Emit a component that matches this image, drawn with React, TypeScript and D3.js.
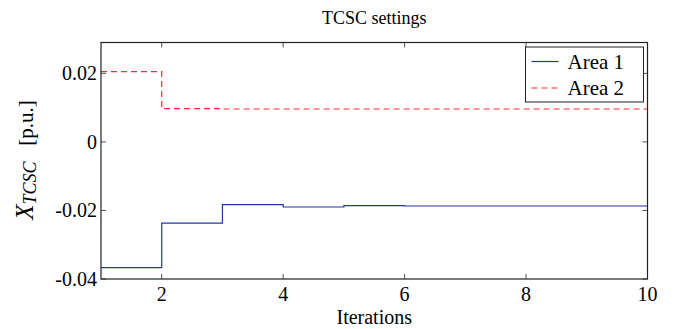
import React, { useEffect, useRef } from "react";
import * as d3 from "d3";

const iterations = [1, 2, 3, 4, 5, 6, 7, 8, 9, 10];
const area1 = [-0.0367, -0.0237, -0.0183, -0.019, -0.0186, -0.0187, -0.0187, -0.0187, -0.0187, -0.0187];
const area2 = [0.0205, 0.0097, 0.0096, 0.0096, 0.0096, 0.0096, 0.0096, 0.0096, 0.0096, 0.0096];
const xTicks = [2, 4, 6, 8, 10];
const yTicks = [-0.04, -0.02, 0, 0.02];
const yTickLabels = ["-0.04", "-0.02", "0", "0.02"];
const seriesNames = ["Area 1", "Area 2"];

const W = 675;
const H = 329;
const FONT = "'Liberation Serif', 'DejaVu Serif', serif";

const App = () => {
  const ref = useRef<SVGSVGElement>(null);

  useEffect(() => {
    const margin = { top: 42.5, right: 27.5, bottom: 50, left: 101 };
    const width = W - margin.left - margin.right;
    const height = H - margin.top - margin.bottom;

    const root = d3.select(ref.current);
    root.selectAll("*").remove();
    const svg = root.append("g").attr("transform", `translate(${margin.left},${margin.top})`);

    const x = d3.scaleLinear().domain([1, 10]).range([0, width]);
    const y = d3.scaleLinear().domain([-0.04, 0.029]).range([height, 0]);

    // series
    const line = d3
      .line<number>()
      .x((_, i) => x(iterations[i]))
      .y((d) => y(d))
      .curve(d3.curveStepAfter);

    svg
      .append("path")
      .attr("d", line(area2))
      .attr("fill", "none")
      .attr("stroke", "#ff2a36")
      .attr("stroke-width", 1.2)
      .attr("stroke-dasharray", "6,4");

    svg
      .append("path")
      .attr("d", line(area1))
      .attr("fill", "none")
      .attr("stroke", "#2535a5")
      .attr("stroke-width", 1.2);

    // tick marks (inside, all four sides)
    const tl = 5;
    xTicks.forEach((t) => {
      svg.append("line").attr("x1", x(t)).attr("x2", x(t)).attr("y1", height).attr("y2", height - tl).attr("stroke", "#555");
      svg.append("line").attr("x1", x(t)).attr("x2", x(t)).attr("y1", 0).attr("y2", tl).attr("stroke", "#555");
      svg
        .append("text")
        .attr("x", x(t))
        .attr("y", height + 22)
        .attr("text-anchor", "middle")
        .attr("font-family", FONT)
        .attr("font-size", 20)
        .text(t);
    });
    yTicks.forEach((t, i) => {
      svg.append("line").attr("x1", 0).attr("x2", tl).attr("y1", y(t)).attr("y2", y(t)).attr("stroke", "#555");
      svg.append("line").attr("x1", width).attr("x2", width - tl).attr("y1", y(t)).attr("y2", y(t)).attr("stroke", "#555");
      svg
        .append("text")
        .attr("x", -4)
        .attr("y", y(t) + 7)
        .attr("text-anchor", "end")
        .attr("font-family", FONT)
        .attr("font-size", 20)
        .text(yTickLabels[i]);
    });

    // frame
    svg
      .append("rect")
      .attr("width", width)
      .attr("height", height)
      .attr("fill", "none")
      .attr("stroke", "#222")
      .attr("stroke-width", 1.2);

    // legend
    const lg = svg.append("g").attr("transform", `translate(${width - 122},4.5)`);
    lg.append("rect").attr("width", 118).attr("height", 55).attr("fill", "#fff").attr("stroke", "#222");
    const colors = ["#2535a5", "#ff2a36"];
    const dashes = [null, "6,4"];
    seriesNames.forEach((n, i) => {
      const cy = 14.5 + i * 26.5;
      lg.append("line")
        .attr("x1", 6)
        .attr("x2", 33)
        .attr("y1", cy)
        .attr("y2", cy)
        .attr("stroke", colors[i])
        .attr("stroke-width", 1.2)
        .attr("stroke-dasharray", dashes[i]);
      lg.append("text")
        .attr("x", 42)
        .attr("y", cy + 7)
        .attr("font-family", FONT)
        .attr("font-size", 21)
        .text(n);
    });

    // titles
    root
      .append("text")
      .attr("x", margin.left + width / 2)
      .attr("y", 24)
      .attr("text-anchor", "middle")
      .attr("font-family", FONT)
      .attr("font-size", 18)
      .text("TCSC settings");

    root
      .append("text")
      .attr("x", margin.left + width / 2)
      .attr("y", 324)
      .attr("text-anchor", "middle")
      .attr("font-family", FONT)
      .attr("font-size", 20)
      .text("Iterations");

    const yl = root
      .append("text")
      .attr("transform", `translate(33,160) rotate(-90)`)
      .attr("text-anchor", "middle")
      .attr("font-family", FONT)
      .attr("font-size", 21);
    yl.append("tspan").attr("font-style", "italic").attr("font-size", 25).text("X");
    yl.append("tspan").attr("font-style", "italic").attr("font-size", 18).attr("dy", 3).text("TCSC");
    yl.append("tspan").attr("dy", -3).text("\u00a0\u00a0\u00a0[p.u.]");
  }, []);

  return (
    <svg
      ref={ref}
      width={W}
      height={H}
      style={{ position: "absolute", left: 0, top: 0, background: "#fff" }}
    />
  );
};

export default App;
